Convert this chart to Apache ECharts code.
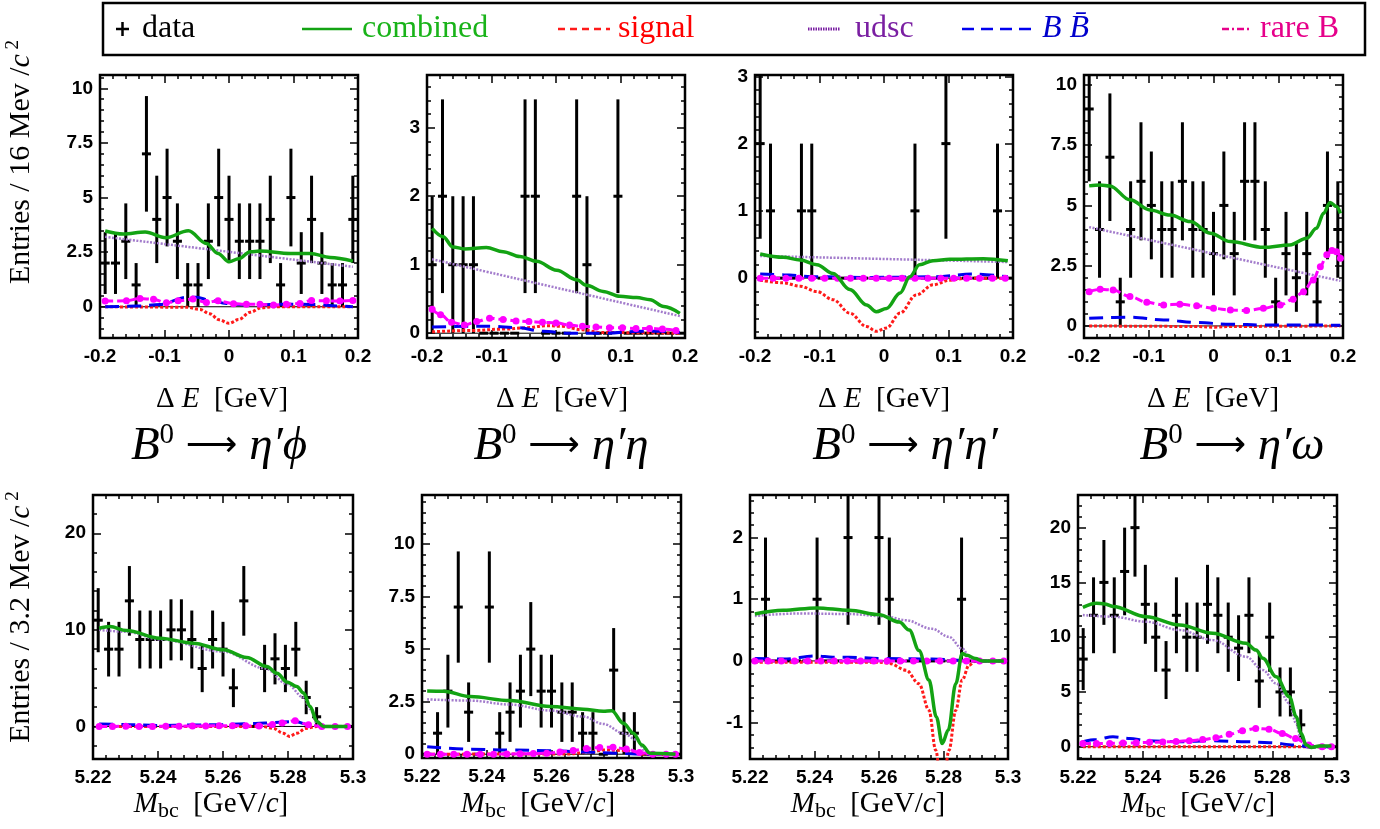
<!DOCTYPE html>
<html>
<head>
<meta charset="utf-8">
<script src="https://cdn.jsdelivr.net/npm/echarts@6/dist/echarts.min.js"></script>
<style>
  html, body { margin: 0; padding: 0; background: #fff; }
  #main { width: 1380px; height: 829px; }
</style>
</head>
<body>
<div id="main"></div>
<script>
// bin centres (16 MeV bins for dE, 3.2 MeV bins for Mbc)
const deBins = [-0.192, -0.176, -0.16, -0.144, -0.128, -0.112, -0.096, -0.08, -0.064, -0.048, -0.032, -0.016, 0,
  0.016, 0.032, 0.048, 0.064, 0.08, 0.096, 0.112, 0.128, 0.144, 0.16, 0.176, 0.192]
const mbcBins = [5.2216, 5.2248, 5.228, 5.2312, 5.2344, 5.2376, 5.2408, 5.244, 5.2472, 5.2504, 5.2536, 5.2568, 5.26,
  5.2632, 5.2664, 5.2696, 5.2728, 5.276, 5.2792, 5.2824, 5.2856, 5.2888, 5.292, 5.2952, 5.2984]

// tick labels
const deTicks = [-0.2, -0.1, 0, 0.1, 0.2]
const mbcTicks = [5.22, 5.24, 5.26, 5.28, 5.3]
const phiDeTicksY = [0, 2.5, 5, 7.5, 10]
const etaDeTicksY = [0, 1, 2, 3]
const etapDeTicksY = [0, 1, 2, 3]
const omegaDeTicksY = [0, 2.5, 5, 7.5, 10]
const phiMbcTicksY = [0, 10, 20]
const etaMbcTicksY = [0, 2.5, 5, 7.5, 10]
const etapMbcTicksY = [-1, 0, 1, 2]
const omegaMbcTicksY = [0, 5, 10, 15, 20]

// ---- B0 -> eta' phi, dE ----
const phiDeCounts = [2, 2, 3, 1, 7, 4, 5, 3, 1, 1, 3, 5, 4, 3, 3, 3, 4, 1, 5, 2, 4, 2, 1, 1, 4]
const phiDeComb = [[-0.192, 3.47], [-0.164, 3.33], [-0.13, 3.42], [-0.098, 3.16], [-0.063, 3.48], [-0.035, 2.9], [-0.017, 2.44],
  [0, 2.06], [0.015, 2.2], [0.033, 2.52], [0.048, 2.55], [0.095, 2.44], [0.126, 2.44], [0.157, 2.26], [0.192, 2.09]]
const phiDeUdsc = [[-0.192, 3.2], [0.192, 1.83]]
const phiDeSig = [[-0.192, 0], [-0.066, -0.02], [-0.045, -0.12], [-0.03, -0.32], [-0.015, -0.6], [0, -0.76], [0.015, -0.58],
  [0.033, -0.25], [0.05, -0.05], [0.07, 0], [0.192, 0]]
const phiDeBB = [[-0.192, 0], [-0.143, 0.03], [-0.107, 0.1], [-0.066, 0.43], [-0.05, 0.43], [-0.03, 0.3], [-0.004, 0.15],
  [0.027, 0.08], [0.1, 0.12], [0.131, 0.1], [0.172, 0.03], [0.192, 0]]
const phiDeRare = [[-0.192, 0.26], [-0.159, 0.27], [-0.138, 0.38], [-0.117, 0.34], [-0.097, 0.18], [-0.079, 0.27], [-0.056, 0.35],
  [-0.035, 0.2], [-0.017, 0.27], [0.007, 0.14], [0.027, 0.11], [0.048, 0.11], [0.069, 0.08], [0.089, 0.12], [0.11, 0.15],
  [0.128, 0.29], [0.151, 0.27], [0.172, 0.26], [0.192, 0.29]]

// ---- B0 -> eta' eta, dE ----
const etaDeCounts = [1, 2, 1, 1, 1, 0, 0, 0, 0, 2, 2, 0, 0, 0, 2, 1, 0, 0, 2, 0, 0, 0, 0, 0, 0]
const etaDeComb = [[-0.192, 1.53], [-0.175, 1.41], [-0.16, 1.26], [-0.142, 1.23], [-0.108, 1.25], [-0.082, 1.19], [-0.056, 1.12],
  [-0.03, 1.05], [0.001, 0.92], [0.032, 0.78], [0.047, 0.7], [0.073, 0.61], [0.099, 0.54], [0.125, 0.52], [0.146, 0.49],
  [0.167, 0.39], [0.192, 0.29]]
const etaDeUdsc = [[-0.192, 1.08], [0.192, 0.25]]
const etaDeSig = [[-0.192, 0.02], [-0.13, 0.04], [-0.08, 0.06], [-0.045, 0.08], [-0.015, 0.11], [0.01, 0.1], [0.04, 0.05],
  [0.07, 0.01], [0.192, 0]]
const etaDeBB = [[-0.192, 0.09], [-0.14, 0.1], [-0.1, 0.1], [-0.06, 0.08], [-0.02, 0.03], [0.02, 0], [0.08, 0], [0.13, 0.03],
  [0.16, 0.03], [0.192, 0.01]]
const etaDeRare = [[-0.192, 0.35], [-0.179, 0.27], [-0.162, 0.16], [-0.142, 0.12], [-0.123, 0.17], [-0.103, 0.22], [-0.082, 0.2],
  [-0.062, 0.18], [-0.042, 0.17], [-0.021, 0.16], [0, 0.15], [0.021, 0.12], [0.041, 0.1], [0.062, 0.09], [0.083, 0.08],
  [0.103, 0.08], [0.124, 0.07], [0.145, 0.07], [0.165, 0.06], [0.186, 0.04]]

// ---- B0 -> eta' eta', dE ----
const etapDeCounts = [2, 1, 0, 0, 1, 1, 0, 0, 0, 0, 0, 0, 0, 0, 0, 1, 0, 0, 2, 0, 0, 0, 0, 1, 0]
const etapDeComb = [[-0.192, 0.36], [-0.156, 0.31], [-0.13, 0.27], [-0.104, 0.2], [-0.079, 0.07], [-0.053, -0.17], [-0.027, -0.4],
  [-0.012, -0.5], [0.004, -0.45], [0.025, -0.22], [0.04, 0.02], [0.055, 0.2], [0.076, 0.26], [0.102, 0.28], [0.154, 0.29],
  [0.192, 0.26]]
const etapDeUdsc = [[-0.192, 0.33], [0.192, 0.24]]
const etapDeSig = [[-0.192, -0.03], [-0.156, -0.07], [-0.13, -0.12], [-0.104, -0.2], [-0.079, -0.32], [-0.053, -0.52],
  [-0.027, -0.72], [-0.012, -0.79], [0.004, -0.74], [0.025, -0.52], [0.05, -0.25], [0.076, -0.1], [0.102, -0.03],
  [0.128, 0], [0.192, 0]]
const etapDeBB = [[-0.192, 0.06], [-0.156, 0.05], [-0.104, 0.02], [-0.027, 0.01], [0.076, 0.02], [0.14, 0.06], [0.192, 0.02]]
const etapDeRare = [[-0.192, 0], [-0.172, 0], [-0.152, 0], [-0.132, 0], [-0.112, 0], [-0.092, 0], [-0.072, 0], [-0.052, 0],
  [-0.032, 0], [-0.012, 0], [0.008, 0], [0.028, 0], [0.048, 0], [0.068, 0], [0.088, 0], [0.108, 0], [0.128, 0],
  [0.148, 0], [0.168, 0], [0.188, 0]]

// ---- B0 -> eta' omega, dE ----
const omegaDeCounts = [9, 4, 7, 1, 4, 6, 5, 4, 4, 6, 4, 4, 3, 5, 3, 6, 6, 4, 1, 3, 2, 3, 1, 5, 4]
const omegaDeComb = [[-0.192, 5.81], [-0.175, 5.85], [-0.16, 5.81], [-0.129, 5.23], [-0.098, 4.81], [-0.067, 4.6], [-0.036, 4.33],
  [-0.005, 3.85], [0.026, 3.5], [0.077, 3.26], [0.118, 3.36], [0.144, 3.64], [0.159, 4.05], [0.17, 4.67], [0.18, 5.12],
  [0.19, 4.95], [0.196, 4.67]]
const omegaDeUdsc = [[-0.192, 4.1], [0.196, 1.87]]
const omegaDeSig = [[-0.192, 0], [-0.03, -0.02], [0, -0.05], [0.03, -0.02], [0.196, 0]]
const omegaDeBB = [[-0.192, 0.32], [-0.129, 0.36], [-0.077, 0.25], [-0.026, 0.14], [0.026, 0.07], [0.077, 0.04], [0.128, 0.04],
  [0.196, 0.03]]
const omegaDeRare = [[-0.192, 1.42], [-0.175, 1.52], [-0.155, 1.49], [-0.129, 1.22], [-0.103, 0.98], [-0.077, 0.87],
  [-0.052, 0.9], [-0.026, 0.84], [0, 0.73], [0.026, 0.66], [0.051, 0.64], [0.077, 0.73], [0.103, 0.87], [0.123, 1.11],
  [0.139, 1.42], [0.154, 1.91], [0.165, 2.46], [0.175, 2.95], [0.183, 3.13], [0.19, 3.08], [0.196, 2.81]]

// ---- B0 -> eta' phi, Mbc ----
const phiMbcCounts = [11, 8, 8, 13, 9, 9, 9, 10, 10, 9, 6, 9, 8, 4, 13, 0, 6, 7, 6, 8, 3, 1, 0, 0, 0]
const phiMbcComb = [[5.2219, 10.17], [5.2252, 10.34], [5.2303, 9.93], [5.2406, 9.14], [5.2508, 8.62], [5.2601, 7.93],
  [5.2673, 7.14], [5.2735, 6.2], [5.2766, 5.5], [5.2797, 4.6], [5.2827, 4.14], [5.2848, 3.45], [5.2868, 2.07],
  [5.2889, 0.52], [5.2909, 0], [5.2983, 0]]
const phiMbcUdsc = [[5.2219, 10.0], [5.2303, 9.8], [5.2406, 9.0], [5.2601, 7.75], [5.273, 6.0], [5.2797, 4.4], [5.2848, 3.0],
  [5.2868, 1.8], [5.2889, 0.3], [5.2909, 0], [5.2983, 0]]
const phiMbcSig = [[5.2219, 0], [5.272, 0], [5.2755, -0.2], [5.2785, -0.7], [5.2805, -1.03], [5.2827, -0.7], [5.2855, -0.2],
  [5.289, 0], [5.2983, 0]]
const phiMbcBB = [[5.2219, 0.25], [5.23, 0.2], [5.24, 0.1], [5.25, 0.15], [5.26, 0.2], [5.27, 0.3], [5.276, 0.4], [5.282, 0.5],
  [5.287, 0.15], [5.291, 0], [5.2983, 0]]
const phiMbcRare = [[5.2219, 0], [5.226, 0], [5.2301, 0.02], [5.2342, 0], [5.2383, 0], [5.2424, 0.02], [5.2465, 0.02],
  [5.2506, 0.05], [5.2547, 0.05], [5.2588, 0.08], [5.2629, 0.08], [5.267, 0.06], [5.2711, 0.05], [5.2752, 0.2],
  [5.2782, 0.35], [5.2822, 0.6], [5.2863, 0.17], [5.2904, 0], [5.2945, 0], [5.2983, 0]]

// ---- B0 -> eta' eta, Mbc ----
const etaMbcCounts = [0, 1, 3, 7, 2, 0, 7, 1, 2, 3, 5, 3, 3, 2, 2, 1, 1, 0, 4, 1, 1, 0, 0, 0, 0]
const etaMbcComb = [[5.2216, 3.01], [5.2267, 3.0], [5.2349, 2.74], [5.2472, 2.55], [5.2596, 2.27], [5.2698, 2.14], [5.276, 2.04],
  [5.2786, 2.07], [5.2822, 1.47], [5.2853, 1.0], [5.2879, 0.44], [5.2904, 0.05], [5.2983, 0]]
const etaMbcUdsc = [[5.2216, 2.61], [5.2349, 2.55], [5.2472, 2.36], [5.2596, 2.08], [5.2698, 1.79], [5.276, 1.44], [5.2822, 1.0],
  [5.2863, 0.68], [5.2894, 0.05], [5.2983, 0]]
const etaMbcSig = [[5.2216, 0], [5.265, 0.01], [5.272, 0.1], [5.276, 0.2], [5.2822, 0.18], [5.2885, 0], [5.2983, 0]]
const etaMbcBB = [[5.2216, 0.36], [5.2349, 0.24], [5.2472, 0.2], [5.2596, 0.17], [5.2698, 0.11], [5.28, 0.05], [5.2894, 0],
  [5.2983, 0]]
const etaMbcRare = [[5.2216, 0], [5.2257, 0], [5.2298, 0], [5.2339, 0], [5.238, 0], [5.2421, 0], [5.2462, 0.01], [5.2503, 0.02],
  [5.2544, 0.03], [5.2585, 0.05], [5.2626, 0.1], [5.2667, 0.18], [5.2708, 0.27], [5.2749, 0.32], [5.279, 0.33],
  [5.2831, 0.25], [5.2872, 0.08], [5.2913, 0], [5.2954, 0], [5.2983, 0]]

// ---- B0 -> eta' eta', Mbc ----
const etapMbcCounts = [0, 1, 0, 0, 0, 0, 1, 0, 0, 2, 0, 0, 2, 1, 0, 0, 0, 0, 0, 0, 1, 0, 0, 0, 0]
const etapMbcComb = [[5.2215, 0.76], [5.2303, 0.82], [5.2406, 0.86], [5.2508, 0.82], [5.2601, 0.75], [5.2663, 0.63],
  [5.2694, 0.5], [5.2724, 0.17], [5.2755, -0.31], [5.2778, -0.91], [5.2796, -1.34], [5.2815, -1.12], [5.2838, -0.37],
  [5.2858, 0.12], [5.2873, 0.09], [5.2899, 0.04], [5.292, 0], [5.2987, 0]]
const etapMbcUdsc = [[5.2215, 0.73], [5.2354, 0.77], [5.2508, 0.76], [5.2622, 0.72], [5.2683, 0.66], [5.2765, 0.52],
  [5.2817, 0.39], [5.2858, 0.2], [5.2884, 0.04], [5.2899, 0], [5.2987, 0]]
const etapMbcSig = [[5.2215, -0.02], [5.26, -0.02], [5.2632, -0.04], [5.2684, -0.15], [5.2724, -0.37], [5.2755, -0.8],
  [5.2776, -1.45], [5.2796, -2.2], [5.2817, -1.45], [5.2838, -0.8], [5.2858, -0.31], [5.2879, -0.07], [5.2899, 0],
  [5.2987, 0]]
const etapMbcBB = [[5.2215, 0.04], [5.2303, 0.03], [5.2406, 0.08], [5.2457, 0.06], [5.2508, 0.06], [5.2601, 0.04],
  [5.2765, 0.03], [5.2899, 0], [5.2987, 0]]
const etapMbcRare = [[5.2215, 0], [5.2256, 0], [5.2297, 0], [5.2338, 0], [5.2379, 0], [5.242, 0], [5.2461, 0], [5.2502, 0],
  [5.2543, 0], [5.2584, 0], [5.2625, 0], [5.2666, 0], [5.2707, 0], [5.2748, 0], [5.2789, 0], [5.283, 0], [5.2871, 0],
  [5.2912, 0], [5.2953, 0], [5.2987, 0]]

// ---- B0 -> eta' omega, Mbc ----
const omegaMbcCounts = [8, 12, 15, 12, 16, 20, 13, 10, 7, 12, 10, 10, 13, 12, 10, 9, 12, 6, 10, 5, 5, 2, 0, 0, 0]
const omegaMbcComb = [[5.2215, 12.72], [5.2257, 13.1], [5.2282, 13.04], [5.2308, 12.8], [5.2411, 11.87], [5.2514, 11.11],
  [5.2616, 10.35], [5.2719, 9.44], [5.275, 8.83], [5.2771, 8.07], [5.2812, 6.39], [5.2853, 4.57], [5.2874, 2.74],
  [5.2889, 1.22], [5.2905, 0.15], [5.292, -0.06], [5.2945, 0.06], [5.2983, 0.06]]
const omegaMbcUdsc = [[5.2215, 12.02], [5.2308, 11.87], [5.2411, 11.41], [5.2514, 10.65], [5.2616, 9.74], [5.2719, 8.22],
  [5.2771, 7.0], [5.2812, 5.78], [5.2853, 3.96], [5.2874, 2.13], [5.2889, 0.6], [5.2905, 0], [5.2983, 0]]
const omegaMbcSig = [[5.2215, 0], [5.2983, 0]]
const omegaMbcBB = [[5.2215, 0.46], [5.2257, 0.67], [5.2308, 0.91], [5.236, 0.76], [5.2411, 0.55], [5.2514, 0.46],
  [5.2616, 0.55], [5.2719, 0.46], [5.2791, 0.37], [5.2874, 0.15], [5.2915, 0], [5.2983, 0]]
const omegaMbcRare = [[5.2215, 0.3], [5.2257, 0.3], [5.2298, 0.3], [5.2339, 0.33], [5.238, 0.36], [5.2421, 0.4],
  [5.2462, 0.44], [5.2503, 0.48], [5.2544, 0.55], [5.2585, 0.65], [5.2626, 0.82], [5.2667, 1.13], [5.2708, 1.46],
  [5.2749, 1.67], [5.279, 1.6], [5.2831, 1.2], [5.2872, 0.75], [5.2913, 0.15], [5.2954, 0], [5.2983, 0]]

// panel table (box = left, top, width, height of the frame)
const panels = [
  { box: [100, 75, 258, 263], x: [-0.2, 0.2], y: [-1.43, 10.61], xt: deTicks, yt: phiDeTicksY, bins: deBins, half: 0.007,
    counts: phiDeCounts, comb: phiDeComb, udsc: phiDeUdsc, sig: phiDeSig, bb: phiDeBB, rare: phiDeRare },
  { box: [427, 75, 258, 263], x: [-0.2, 0.2], y: [-0.07, 3.77], xt: deTicks, yt: etaDeTicksY, bins: deBins, half: 0.007,
    counts: etaDeCounts, comb: etaDeComb, udsc: etaDeUdsc, sig: etaDeSig, bb: etaDeBB, rare: etaDeRare },
  { box: [755, 75, 258, 263], x: [-0.2, 0.2], y: [-0.89, 3.02], xt: deTicks, yt: etapDeTicksY, bins: deBins, half: 0.007,
    counts: etapDeCounts, comb: etapDeComb, udsc: etapDeUdsc, sig: etapDeSig, bb: etapDeBB, rare: etapDeRare },
  { box: [1084, 75, 259, 263], x: [-0.2, 0.2], y: [-0.5, 10.41], xt: deTicks, yt: omegaDeTicksY, bins: deBins, half: 0.007,
    counts: omegaDeCounts, comb: omegaDeComb, udsc: omegaDeUdsc, sig: omegaDeSig, bb: omegaDeBB, rare: omegaDeRare },
  { box: [93, 495, 260, 264], x: [5.22, 5.3], y: [-3.37, 23.96], xt: mbcTicks, yt: phiMbcTicksY, bins: mbcBins, half: 0.0014,
    counts: phiMbcCounts, comb: phiMbcComb, udsc: phiMbcUdsc, sig: phiMbcSig, bb: phiMbcBB, rare: phiMbcRare },
  { box: [422, 495, 259, 263], x: [5.22, 5.3], y: [-0.18, 12.33], xt: mbcTicks, yt: etaMbcTicksY, bins: mbcBins, half: 0.0014,
    counts: etaMbcCounts, comb: etaMbcComb, udsc: etaMbcUdsc, sig: etaMbcSig, bb: etaMbcBB, rare: etaMbcRare },
  { box: [750, 495, 258, 264], x: [5.22, 5.3], y: [-1.59, 2.69], xt: mbcTicks, yt: etapMbcTicksY, bins: mbcBins, half: 0.0014,
    counts: etapMbcCounts, comb: etapMbcComb, udsc: etapMbcUdsc, sig: etapMbcSig, bb: etapMbcBB, rare: etapMbcRare },
  { box: [1078, 495, 259, 264], x: [5.22, 5.3], y: [-1.12, 22.98], xt: mbcTicks, yt: omegaMbcTicksY, bins: mbcBins, half: 0.0014,
    counts: omegaMbcCounts, comb: omegaMbcComb, udsc: omegaMbcUdsc, sig: omegaMbcSig, bb: omegaMbcBB, rare: omegaMbcRare }
]

const GREEN = '#13a313'
const RED = '#ff1a1a'
const PURPLE = '#a37ccc'
const BLUE = '#0000ee'
const MAGENTA = '#ff00ff'

// minor ticks: 5 subdivisions of the major spacing
function minorTicks(majors, min, max) {
  const step = (majors[1] - majors[0]) / 5
  const out = []
  const k0 = Math.ceil((min - majors[0]) / step - 1e-6)
  const k1 = Math.floor((max - majors[0]) / step + 1e-6)
  for (let k = k0; k <= k1; k++) out.push(+(majors[0] + k * step).toFixed(6))
  return out
}

function fmt(v) {
  return String(+(+v).toFixed(4))
}

const grids = []
const xAxes = []
const yAxes = []
const series = []

function makeAxis(dim, gi, range, pos, ticks, len, labels) {
  return {
    type: 'value',
    gridIndex: gi,
    min: range[0],
    max: range[1],
    position: pos,
    axisLine: { show: false, onZero: false },
    splitLine: { show: false },
    axisTick: { show: true, inside: true, length: len, lineStyle: { color: '#000', width: 1.5 }, customValues: ticks },
    axisLabel: labels ? {
      show: true,
      customValues: ticks,
      margin: dim === 'x' ? 9 : 7,
      color: '#000',
      fontFamily: 'Liberation Sans',
      fontWeight: 'bold',
      fontSize: 19,
      formatter: fmt
    } : { show: false }
  }
}

function renderErr(params, api) {
  const x = api.value(0)
  const n = api.value(1)
  const half = api.value(2)
  const e = Math.sqrt(n) // poisson error
  const lo = api.coord([x, n - e])
  const hi = api.coord([x, n + e])
  const l = api.coord([x - half, n])
  const r = api.coord([x + half, n])
  const st = { stroke: '#000', lineWidth: 3 }
  return {
    type: 'group',
    children: [
      { type: 'line', shape: { x1: lo[0], y1: lo[1], x2: hi[0], y2: hi[1] }, style: st },
      { type: 'line', shape: { x1: l[0], y1: l[1], x2: r[0], y2: r[1] }, style: st }
    ]
  }
}

panels.forEach((p, gi) => {
  grids.push({
    left: p.box[0], top: p.box[1], width: p.box[2], height: p.box[3],
    show: true, borderColor: '#000', borderWidth: 2.5, backgroundColor: 'transparent',
    containLabel: false, outerBoundsMode: 'none'
  })
  const xMinor = minorTicks(p.xt, p.x[0], p.x[1])
  const yMinor = minorTicks(p.yt, p.y[0], p.y[1])
  xAxes.push(makeAxis('x', gi, p.x, 'bottom', p.xt, 8, true))
  xAxes.push(makeAxis('x', gi, p.x, 'bottom', xMinor, 4, false))
  xAxes.push(makeAxis('x', gi, p.x, 'top', p.xt, 8, false))
  xAxes.push(makeAxis('x', gi, p.x, 'top', xMinor, 4, false))
  yAxes.push(makeAxis('y', gi, p.y, 'left', p.yt, 8, true))
  yAxes.push(makeAxis('y', gi, p.y, 'left', yMinor, 4, false))
  yAxes.push(makeAxis('y', gi, p.y, 'right', p.yt, 8, false))
  yAxes.push(makeAxis('y', gi, p.y, 'right', yMinor, 4, false))

  const ax = { xAxisIndex: gi * 4, yAxisIndex: gi * 4 }
  const curve = (data, color, width, dash, z, extra) => Object.assign({
    type: 'line', data: data, smooth: 0.35, smoothMonotone: 'x', symbol: 'none', silent: true, z: z,
    lineStyle: { color: color, width: width, type: dash }
  }, ax, extra || {})

  series.push(Object.assign({
    type: 'line', data: [[p.x[0], 0], [p.x[1], 0]], symbol: 'none', silent: true, z: 1,
    lineStyle: { color: '#000', width: 1 }
  }, ax))
  series.push(Object.assign({
    type: 'custom', renderItem: renderErr, clip: true, silent: true, z: 2,
    data: p.bins.map((b, k) => [b, p.counts[k], p.half])
  }, ax))
  series.push(curve(p.udsc, PURPLE, 2.5, [2, 1.5], 3))
  series.push(curve(p.sig, RED, 3, [3, 2], 3))
  series.push(curve(p.bb, BLUE, 3, [14, 8], 3))
  series.push(curve(p.rare, MAGENTA, 3, [8, 4], 4, {
    symbol: 'circle', symbolSize: 7, showSymbol: true, showAllSymbol: true,
    itemStyle: { color: MAGENTA, borderWidth: 0 }
  }))
  series.push(curve(p.comb, GREEN, 3.5, 'solid', 5))
})

// texts
const serif = '"Liberation Serif", "DejaVu Serif", serif'
const graphic = []

function txt(x, y, text, size, rich, extra) {
  const st = {
    text: text, x: 0, y: 0, align: 'center', verticalAlign: 'middle', fill: '#000',
    font: size + 'px ' + serif, rich: rich || {}
  }
  return { type: 'text', x: x, y: y, silent: true, style: Object.assign(st, extra || {}) }
}

// y-axis titles
const yTitleRich = {
  n: { fontFamily: serif, fontSize: 30, color: '#333', lineHeight: 34, verticalAlign: 'middle' },
  i: { fontFamily: serif, fontSize: 30, fontStyle: 'italic', color: '#333', lineHeight: 34, verticalAlign: 'middle' },
  s: { fontFamily: serif, fontSize: 19, color: '#333', lineHeight: 22, verticalAlign: 'top' }
}
graphic.push(Object.assign(txt(21, 162, '{n|Entries / 16 Mev /}{i|c}{s| 2}', 30, yTitleRich), { rotation: Math.PI / 2 }))
graphic.push(Object.assign(txt(21, 617, '{n|Entries / 3.2 Mev /}{i|c}{s| 2}', 30, yTitleRich), { rotation: Math.PI / 2 }))

// x-axis titles
const xTitleRich = {
  n: { fontFamily: serif, fontSize: 29, color: '#222', lineHeight: 36, verticalAlign: 'middle' },
  i: { fontFamily: serif, fontSize: 29, fontStyle: 'italic', color: '#222', lineHeight: 36, verticalAlign: 'middle' },
  s: { fontFamily: serif, fontSize: 22, color: '#222', lineHeight: 16, verticalAlign: 'bottom' }
}
const deTitleX = [222, 562, 884, 1213]
const mbcTitleX = [211, 538, 868, 1198]
deTitleX.forEach(x => graphic.push(txt(x, 399, '{n|\u0394 }{i|E}{n|  [GeV]}', 29, xTitleRich)))
mbcTitleX.forEach(x => graphic.push(txt(x, 804, '{i|M}{s|bc}{n|  [GeV/}{i|c}{n|]}', 29, xTitleRich)))

// decay titles
const decayRich = {
  i: { fontFamily: serif, fontSize: 47, fontStyle: 'italic', color: '#111', lineHeight: 52, verticalAlign: 'middle' },
  n: { fontFamily: serif, fontSize: 47, color: '#111', lineHeight: 52, verticalAlign: 'middle' },
  a: { fontFamily: '"DejaVu Sans", "Liberation Serif", sans-serif', fontSize: 36, color: '#111', lineHeight: 52,
    verticalAlign: 'middle' },
  s: { fontFamily: serif, fontSize: 29, color: '#111', lineHeight: 26, verticalAlign: 'top' }
}
const decayTitles = ['\u03b7\u2032\u03d5', '\u03b7\u2032\u03b7', '\u03b7\u2032\u03b7\u2032', '\u03b7\u2032\u03c9']
const decayX = [219, 561, 905, 1232]
decayTitles.forEach((t, k) => graphic.push(txt(decayX[k], 447, '{i|B}{s|0}{n| }{a|\u27f6}{n| }{i|' + t + '}', 47, decayRich)))

// legend box
graphic.push({ type: 'rect', silent: true, shape: { x: 103, y: 3, width: 1262, height: 52 },
  style: { fill: '#fff', stroke: '#000', lineWidth: 2.5 }, z: 0 })
const ly = 29
const legLine = (x1, x2, color, dash, w) => ({ type: 'line', silent: true, shape: { x1: x1, y1: ly, x2: x2, y2: ly },
  style: { stroke: color, lineWidth: w || 2.5, lineDash: dash } })
graphic.push({ type: 'line', silent: true, shape: { x1: 116, y1: ly, x2: 129, y2: ly }, style: { stroke: '#000', lineWidth: 2.5 } })
graphic.push({ type: 'line', silent: true, shape: { x1: 122.5, y1: ly - 7, x2: 122.5, y2: ly + 7 }, style: { stroke: '#000', lineWidth: 2.5 } })
graphic.push(legLine(302, 352, GREEN, null, 2.5))
graphic.push(legLine(558, 610, RED, [7, 5], 2.5))
graphic.push(legLine(808, 840, '#7a1fa2', [1.5, 1], 3))
graphic.push(legLine(962, 1036, BLUE, [12, 7], 2.5))
graphic.push(legLine(1222, 1252, '#e6008a', [7, 3, 2, 3], 2.5))
const legText = (x, text, color, italic) => ({
  type: 'text', silent: true, x: x, y: ly,
  style: { text: text, align: 'left', verticalAlign: 'middle', fill: color,
    font: (italic ? 'italic ' : '') + '32px ' + serif }
})
graphic.push(legText(142, 'data', '#000'))
graphic.push(legText(362, 'combined', '#19b319'))
graphic.push(legText(618, 'signal', '#ff0000'))
graphic.push(legText(855, 'udsc', '#7a1fa2'))
graphic.push(legText(1042, 'B B\u0304', '#0000cc', true))
graphic.push(legText(1260, 'rare B', '#e6008a'))

const chart = echarts.init(document.getElementById('main'))
chart.setOption({
  animation: false,
  backgroundColor: '#fff',
  grid: grids,
  xAxis: xAxes,
  yAxis: yAxes,
  series: series,
  graphic: graphic
})
</script>
</body>
</html>
